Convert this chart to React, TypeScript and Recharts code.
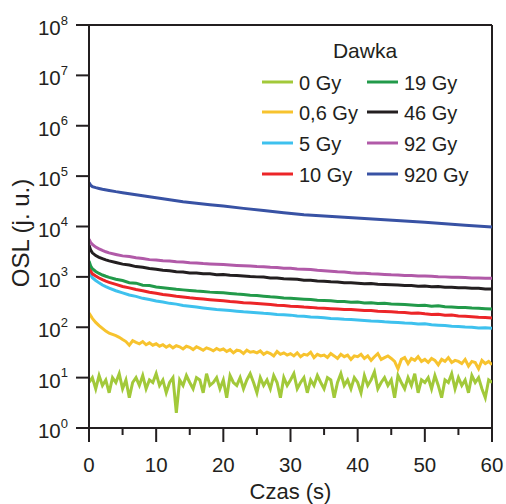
import React from 'react';
import { LineChart, Line, XAxis, YAxis, ReferenceLine, Legend } from 'recharts';

// time grids (s)
const tLow = [
  0, 0.5, 1, 1.5, 2, 2.5, 3, 3.5, 4, 4.5,
  5, 5.5, 6, 6.5, 7, 7.5, 8, 8.5, 9, 9.5,
  10, 10.5, 11, 11.5, 12, 12.5, 13, 13.5, 14, 14.5,
  15, 15.5, 16, 16.5, 17, 17.5, 18, 18.5, 19, 19.5,
  20, 20.5, 21, 21.5, 22, 22.5, 23, 23.5, 24, 24.5,
  25, 25.5, 26, 26.5, 27, 27.5, 28, 28.5, 29, 29.5,
  30, 30.5, 31, 31.5, 32, 32.5, 33, 33.5, 34, 34.5,
  35, 35.5, 36, 36.5, 37, 37.5, 38, 38.5, 39, 39.5,
  40, 40.5, 41, 41.5, 42, 42.5, 43, 43.5, 44, 44.5,
  45, 45.5, 46, 46.5, 47, 47.5, 48, 48.5, 49, 49.5,
  50, 50.5, 51, 51.5, 52, 52.5, 53, 53.5, 54, 54.5,
  55, 55.5, 56, 56.5, 57, 57.5, 58, 58.5, 59, 59.5,
  60,
];

const tMid = [
  0, 0.25, 0.5, 1, 1.5, 2, 2.5, 3,
  4, 5, 6, 7, 8, 9, 10, 11, 12, 13, 14, 15,
  16, 17, 18, 19, 20, 21, 22, 23, 24, 25,
  26, 27, 28, 29, 30, 31, 32, 33, 34, 35,
  36, 37, 38, 39, 40, 41, 42, 43, 44, 45,
  46, 47, 48, 49, 50, 51, 52, 53, 54, 55,
  56, 57, 58, 59, 60,
];

const tHigh = [0, 0.25, 0.5, 1, 1.5, 2, 3, 4, 5, 6, 8, 10, 12, 14, 16, 18, 20, 23, 26, 29, 32, 35, 38, 41, 44, 47, 50, 53, 56, 60];

// OSL (j. u.) per dose
const gy0 = [
  8, 10, 6, 11, 7, 9, 5, 10, 8, 12,
  6, 9, 4, 8, 10, 7, 11, 6, 9, 8,
  12, 7, 9, 5, 8, 10, 2, 9, 7, 11,
  8, 6, 10, 9, 5, 12, 7, 8, 10, 6,
  9, 4, 11, 8, 7, 10, 6, 9, 12, 8,
  5, 10, 7, 9, 6, 11, 8, 4, 10, 7,
  9, 12, 6, 8, 10, 5, 9, 7, 11, 8,
  6, 10, 9, 4, 8, 12, 7, 9, 6, 10,
  8, 5, 11, 7, 9, 13, 6, 8, 10, 7,
  9, 4, 11, 8, 6, 10, 7, 12, 5, 9,
  8, 10, 6, 11, 7, 4, 9, 8, 12, 6,
  10, 7, 9, 5, 11, 8, 10, 6, 4, 9,
  8,
];

const gy06 = [
  192, 150, 125, 108, 95, 84, 76, 72, 68, 63,
  57, 52, 44, 54, 50, 47, 52, 45, 49, 44,
  47, 42, 45, 40, 44, 39, 43, 41, 37, 42,
  40, 36, 41, 38, 35, 39, 37, 34, 38, 35,
  37, 33, 36, 31, 35, 34, 30, 35, 32, 33,
  31, 34, 29, 32, 30, 27, 33, 29, 31, 28,
  30, 27, 31, 26, 29, 28, 32, 25, 29, 27,
  28, 25, 30, 27, 24, 29, 26, 28, 23, 27,
  26, 29, 24, 27, 22, 26, 30, 23, 25, 27,
  24, 21, 15, 23, 25, 19, 24, 22, 26, 21,
  23, 20, 24, 22, 18, 23, 21, 25, 20, 22,
  21, 19, 23, 17, 21, 20, 15, 22, 19, 21,
  18,
];

const gy5 = [
  1370, 1100, 960, 850, 760, 690, 640, 600,
  530, 482, 438, 410, 375, 355, 332, 316, 298, 288, 270, 262,
  252, 242, 234, 226, 220, 214, 208, 202, 198, 194,
  189, 186, 180, 178, 174, 168, 166, 160, 158, 154,
  150, 148, 144, 142, 139, 136, 133, 131, 128, 126,
  124, 121, 120, 116, 117, 112, 110, 108, 105, 104,
  101, 100, 97, 98, 95,
];

const gy10 = [
  1590, 1300, 1150, 1040, 950, 880, 820, 780,
  710, 645, 605, 560, 528, 495, 472, 448, 432, 412, 400, 384,
  372, 362, 352, 342, 334, 324, 318, 308, 302, 296,
  288, 282, 274, 270, 262, 258, 252, 248, 242, 238,
  234, 230, 226, 224, 220, 214, 216, 208, 206, 202,
  198, 196, 190, 192, 185, 180, 182, 174, 175, 168,
  166, 162, 158, 156, 152,
];

const gy19 = [
  2070, 1650, 1450, 1280, 1170, 1090, 1030, 980,
  895, 845, 768, 750, 685, 672, 630, 608, 588, 566, 552, 536,
  522, 512, 498, 490, 482, 468, 455, 448, 432, 425,
  414, 402, 396, 382, 378, 368, 360, 354, 344, 340,
  334, 326, 324, 314, 316, 304, 308, 296, 298, 290,
  286, 282, 276, 270, 272, 262, 266, 255, 252, 248,
  246, 240, 238, 234, 230,
];

const gy46 = [
  4300, 3400, 3000, 2650, 2450, 2300, 2180, 2080,
  1930, 1790, 1715, 1600, 1545, 1460, 1415, 1350, 1325, 1265, 1250, 1195,
  1195, 1155, 1150, 1105, 1110, 1075, 1065, 1040, 1015, 1000,
  990, 955, 950, 920, 905, 895, 860, 858, 830, 822,
  800, 795, 768, 762, 750, 732, 735, 712, 708, 698,
  692, 672, 675, 655, 658, 638, 642, 622, 625, 610,
  608, 592, 594, 576, 575,
];

const gy92 = [
  5570, 4800, 4400, 3900, 3600, 3350, 3150, 3000,
  2790, 2610, 2530, 2390, 2320, 2200, 2170, 2080, 2060, 1990, 1970, 1910,
  1890, 1840, 1810, 1790, 1770, 1730, 1690, 1660, 1640, 1600,
  1590, 1550, 1530, 1490, 1480, 1440, 1420, 1400, 1350, 1330,
  1300, 1270, 1250, 1210, 1180, 1175, 1150, 1135, 1115, 1100,
  1095, 1070, 1065, 1045, 1040, 1025, 1005, 1000, 985, 980,
  975, 955, 952, 940, 937,
];

const gy920 = [
  75000, 66000, 62000, 59000, 57000, 55000, 52000, 49200, 46900, 44800,
  40900, 37300, 34100, 31100, 29000, 27100, 25400,
  22900, 20700, 18700, 17100, 16200, 15300, 14400, 13600, 12800, 12100, 11300, 10600, 9800,
];

const xTicks = [0, 5, 10, 15, 20, 25, 30, 35, 40, 45, 50, 55, 60];
const yTicks = [1, 10, 100, 1e3, 1e4, 1e5, 1e6, 1e7, 1e8];

const INK = '#231f20';
const FONT = '"Liberation Sans", Arial, sans-serif';

const zip = (t: number[], v: number[]) => t.map((x, i) => ({ t: x, v: v[i] }));

const series = [
  { name: '0 Gy', color: '#a2c93a', data: zip(tLow, gy0) },
  { name: '0,6 Gy', color: '#f7c32e', data: zip(tLow, gy06) },
  { name: '5 Gy', color: '#3ec1ee', data: zip(tMid, gy5) },
  { name: '10 Gy', color: '#ec2528', data: zip(tMid, gy10) },
  { name: '19 Gy', color: '#229a4a', data: zip(tMid, gy19) },
  { name: '46 Gy', color: INK, data: zip(tMid, gy46) },
  { name: '92 Gy', color: '#b15aa8', data: zip(tMid, gy92) },
  { name: '920 Gy', color: '#3852a4', data: zip(tHigh, gy920) },
];

const YTick = ({ x, y, payload }: any) => {
  const exp = Math.round(Math.log10(payload.value));
  return (
    <text x={x - 6} y={y + 10} textAnchor="end" fill={INK} fontSize={20.5} fontFamily={FONT}>
      <tspan>10</tspan>
      <tspan dy={-10.5} fontSize={13}>{exp}</tspan>
    </text>
  );
};

// custom x tick: long tick + label every 10 s, short tick at 5 s
const XTick = ({ x, y, payload }: any) => {
  const major = payload.value % 10 === 0;
  const axisY = y - 13;
  return (
    <g>
      <line x1={x} x2={x} y1={axisY} y2={axisY + (major ? 14 : 7)} stroke={INK} strokeWidth={2} />
      {major && (
        <text x={x} y={axisY + 44} textAnchor="middle" fill={INK} fontSize={20.5} fontFamily={FONT}>
          {payload.value}
        </text>
      )}
    </g>
  );
};

const YLabel = () => (
  <text
    x={29}
    y={233}
    transform="rotate(-90 29 233)"
    textAnchor="middle"
    fill={INK}
    fontSize={24}
    fontFamily={FONT}
  >
    OSL (j. u.)
  </text>
);

const renderLegend = () => {
  const rows = [82, 112, 143, 174];
  return (
    <svg width={506} height={200} style={{ display: 'block' }}>
      <text x={365} y={58} textAnchor="middle" fill={INK} fontSize={21} fontFamily={FONT}>
        Dawka
      </text>
      {series.map((s, i) => {
        const col = i < 4 ? 0 : 1;
        const ly = rows[i % 4];
        const lx = col === 0 ? 262 : 367;
        return (
          <g key={s.name}>
            <line x1={lx} x2={lx + 31} y1={ly} y2={ly} stroke={s.color} strokeWidth={3} />
            <text x={lx + 37} y={ly + 7.5} fill={INK} fontSize={20} fontFamily={FONT}>
              {s.name}
            </text>
          </g>
        );
      })}
    </svg>
  );
};

export default function App() {
  return (
    <div style={{ position: 'absolute', left: 0, top: 0, width: 506, height: 504, background: '#fff' }}>
      <LineChart width={506} height={504} margin={{ top: 25, right: 14, left: 0, bottom: 0 }}>
        <XAxis
          dataKey="t"
          type="number"
          domain={[0, 60]}
          ticks={xTicks}
          interval={0}
          allowDataOverflow
          height={76}
          axisLine={{ stroke: INK, strokeWidth: 2 }}
          tickLine={false}
          tickSize={13}
          tickMargin={0}
          tick={<XTick />}
          label={{ value: 'Czas (s)', position: 'insideBottom', offset: 5, fill: INK, fontSize: 22, fontFamily: FONT }}
        />
        <YAxis
          type="number"
          scale="log"
          domain={[1, 1e8]}
          ticks={yTicks}
          interval={0}
          allowDataOverflow
          width={89}
          axisLine={{ stroke: INK, strokeWidth: 2 }}
          tickLine={{ stroke: INK, strokeWidth: 2 }}
          tickSize={13}
          tick={<YTick />}
          label={<YLabel />}
        />
        <ReferenceLine y={1e8} stroke={INK} strokeWidth={2} />
        <ReferenceLine x={60} stroke={INK} strokeWidth={2} />
        {series.map((s) => (
          <Line
            key={s.name}
            data={s.data}
            dataKey="v"
            name={s.name}
            type="linear"
            stroke={s.color}
            strokeWidth={3}
            dot={false}
            isAnimationActive={false}
          />
        ))}
        <Legend
          layout="horizontal"
          verticalAlign="middle"
          align="center"
          content={renderLegend}
          wrapperStyle={{ position: 'absolute', left: 0, top: 0, width: 506, height: 200, pointerEvents: 'none' }}
        />
      </LineChart>
    </div>
  );
}
